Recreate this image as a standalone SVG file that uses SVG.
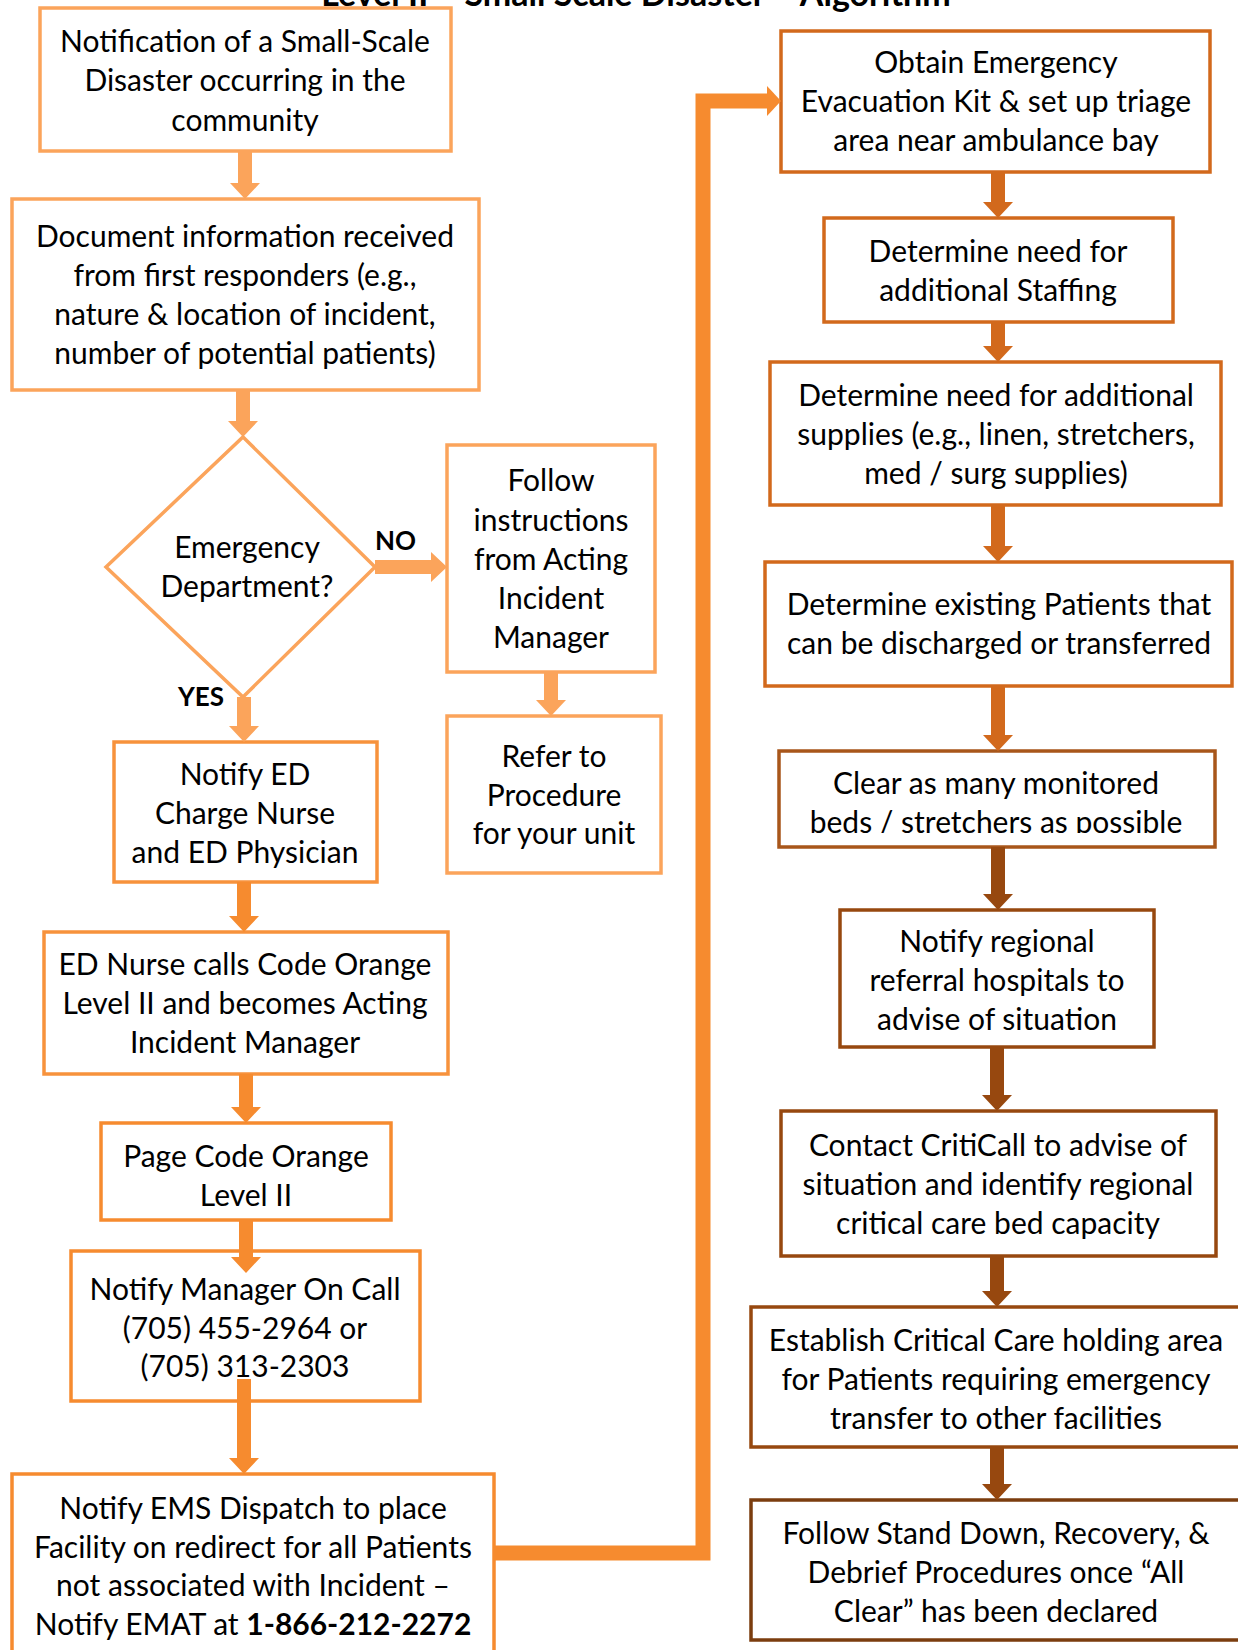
<svg xmlns="http://www.w3.org/2000/svg" width="1238" height="1650" viewBox="0 0 1238 1650">
<style>
  .t{font-family:Lato,"Liberation Sans",sans-serif;font-size:30px;fill:#000;text-anchor:middle}
  .lbl{font-family:Lato,"Liberation Sans",sans-serif;font-size:26px;font-weight:bold;fill:#000}
  .title{font-family:Lato,"Liberation Sans",sans-serif;font-size:34px;font-weight:bold;fill:#000;text-anchor:middle}
  .box{fill:#fff;stroke-width:3.5}
  .c1{stroke:#FBA45B}
  .c2{stroke:#F7923C}
  .c3{stroke:#F68B2F}
  .c4{stroke:#D2691C}
  .c5{stroke:#A8561A}
  .c6{stroke:#97480F}
  .c7{stroke:#7B3D0E}
  .a1{fill:#FBA45B}
  .a3{fill:#F68B2F}
  .a4{fill:#D2691C}
  .a6{fill:#97480F}
</style>
<defs>
  <clipPath id="clipClear"><rect x="779" y="751" width="436" height="82"/></clipPath>
</defs>
<rect width="1238" height="1650" fill="#fff"/>
<text class="title" x="636" y="6">Level II – Small Scale Disaster – Algorithm</text>

<g id="n1">
  <rect class="box c1" x="40" y="8" width="411" height="143"/>
  <text class="t" x="245" y="52">Notification of a Small-Scale</text>
  <text class="t" x="245" y="91">Disaster occurring in the</text>
  <text class="t" x="245" y="131">community</text>
</g>
<g id="n2">
  <rect class="box c1" x="12" y="199" width="467" height="191"/>
  <text class="t" x="245" y="247">Document information received</text>
  <text class="t" x="245" y="286">from first responders (e.g.,</text>
  <text class="t" x="245" y="325">nature &amp; location of incident,</text>
  <text class="t" x="245" y="364">number of potential patients)</text>
</g>
<g id="n3">
  <polygon class="box c1" points="243,437 375,567 243,697 106,567"/>
  <text class="t" x="247" y="558">Emergency</text>
  <text class="t" x="247" y="597">Department?</text>
</g>
<text class="lbl" x="375" y="550">NO</text>
<text class="lbl" x="178" y="706">YES</text>
<g id="n4">
  <rect class="box c1" x="447" y="445" width="208" height="227"/>
  <text class="t" x="551" y="491">Follow</text>
  <text class="t" x="551" y="531">instructions</text>
  <text class="t" x="551" y="570">from Acting</text>
  <text class="t" x="551" y="609">Incident</text>
  <text class="t" x="551" y="648">Manager</text>
</g>
<g id="n5">
  <rect class="box c1" x="447" y="716" width="214" height="157"/>
  <text class="t" x="554" y="767">Refer to</text>
  <text class="t" x="554" y="806">Procedure</text>
  <text class="t" x="554" y="844">for your unit</text>
</g>
<g id="n6">
  <rect class="box c2" x="114" y="742" width="263" height="140"/>
  <text class="t" x="245" y="785">Notify ED</text>
  <text class="t" x="245" y="824">Charge Nurse</text>
  <text class="t" x="245" y="863">and ED Physician</text>
</g>
<g id="n7">
  <rect class="box c2" x="44" y="932" width="404" height="142"/>
  <text class="t" x="245" y="975">ED Nurse calls Code Orange</text>
  <text class="t" x="245" y="1014">Level II and becomes Acting</text>
  <text class="t" x="245" y="1053">Incident Manager</text>
</g>
<g id="n8">
  <rect class="box c3" x="101" y="1123" width="290" height="97"/>
  <text class="t" x="246" y="1167">Page Code Orange</text>
  <text class="t" x="246" y="1206">Level II</text>
</g>
<g id="n9">
  <rect class="box c3" x="71" y="1251" width="349" height="150"/>
  <text class="t" x="245" y="1300">Notify Manager On Call</text>
  <text class="t" x="245" y="1339">(705) 455-2964 or</text>
  <text class="t" x="245" y="1377">(705) 313-2303</text>
</g>
<g id="n10">
  <rect class="box c3" x="12" y="1474" width="482" height="190"/>
  <text class="t" x="253" y="1519">Notify EMS Dispatch to place</text>
  <text class="t" x="253" y="1558">Facility on redirect for all Patients</text>
  <text class="t" x="253" y="1596">not associated with Incident –</text>
  <text class="t" x="253" y="1635">Notify EMAT at <tspan font-weight="bold">1-866-212-2272</tspan></text>
</g>

<g id="n11">
  <rect class="box c4" x="781" y="31" width="429" height="141"/>
  <text class="t" x="996" y="73">Obtain Emergency</text>
  <text class="t" x="996" y="112">Evacuation Kit &amp; set up triage</text>
  <text class="t" x="996" y="151">area near ambulance bay</text>
</g>
<g id="n12">
  <rect class="box c4" x="824" y="218" width="349" height="104"/>
  <text class="t" x="998" y="262">Determine need for</text>
  <text class="t" x="998" y="301">additional Staffing</text>
</g>
<g id="n13">
  <rect class="box c4" x="770" y="362" width="451" height="143"/>
  <text class="t" x="996" y="406">Determine need for additional</text>
  <text class="t" x="996" y="445">supplies (e.g., linen, stretchers,</text>
  <text class="t" x="996" y="484">med / surg supplies)</text>
</g>
<g id="n14">
  <rect class="box c4" x="765" y="562" width="467" height="124"/>
  <text class="t" x="999" y="615">Determine existing Patients that</text>
  <text class="t" x="999" y="654">can be discharged or transferred</text>
</g>
<g id="n15">
  <rect class="box c5" x="779" y="751" width="436" height="96"/>
  <g clip-path="url(#clipClear)">
    <text class="t" x="996" y="794">Clear as many monitored</text>
    <text class="t" x="996" y="833">beds / stretchers as possible</text>
  </g>
</g>
<g id="n16">
  <rect class="box c6" x="840" y="910" width="314" height="137"/>
  <text class="t" x="997" y="952">Notify regional</text>
  <text class="t" x="997" y="991">referral hospitals to</text>
  <text class="t" x="997" y="1030">advise of situation</text>
</g>
<g id="n17">
  <rect class="box c6" x="781" y="1111" width="435" height="145"/>
  <text class="t" x="998" y="1156">Contact CritiCall to advise of</text>
  <text class="t" x="998" y="1195">situation and identify regional</text>
  <text class="t" x="998" y="1234">critical care bed capacity</text>
</g>
<g id="n18">
  <rect class="box c6" x="751" y="1307" width="500" height="140"/>
  <text class="t" x="996" y="1351">Establish Critical Care holding area</text>
  <text class="t" x="996" y="1390">for Patients requiring emergency</text>
  <text class="t" x="996" y="1429">transfer to other facilities</text>
</g>
<g id="n19">
  <rect class="box c7" x="751" y="1500" width="500" height="140"/>
  <text class="t" x="996" y="1544">Follow Stand Down, Recovery, &amp;</text>
  <text class="t" x="996" y="1583">Debrief Procedures once “All</text>
  <text class="t" x="996" y="1622">Clear” has been declared</text>
</g>

<g id="connectors">
  <polygon class="a1" points="238,151 252,151 252,183 260,183 245,199 230,183 238,183"/>
  <polygon class="a1" points="236,390 250,390 250,421 258,421 243,437 228,421 236,421"/>
  <polygon class="a1" points="375,560 431,560 431,552 447,567 431,582 431,574 375,574"/>
  <polygon class="a1" points="544,672 558,672 558,700 566,700 551,716 536,700 544,700"/>
  <polygon class="a1" points="237,697 251,697 251,726 259,726 244,742 229,726 237,726"/>
  <polygon class="a3" points="237,882 251,882 251,916 259,916 244,932 229,916 237,916"/>
  <polygon class="a3" points="239,1074 253,1074 253,1107 261,1107 246,1123 231,1107 239,1107"/>
  <polygon class="a3" points="239,1220 253,1220 253,1257 261,1257 246,1273 231,1257 239,1257"/>
  <polygon class="a3" points="237,1379 251,1379 251,1458 259,1458 244,1474 229,1458 237,1458"/>
  <path d="M494,1553 H703 V101 H768" fill="none" stroke="#F68B2F" stroke-width="15" stroke-linejoin="miter"/>
  <polygon class="a3" points="767,86 781,101 767,116"/>
  <polygon class="a4" points="991,172 1005,172 1005,202 1013,202 998,218 983,202 991,202"/>
  <polygon class="a4" points="991,322 1005,322 1005,346 1013,346 998,362 983,346 991,346"/>
  <polygon class="a4" points="991,505 1005,505 1005,546 1013,546 998,562 983,546 991,546"/>
  <polygon class="a4" points="991,686 1005,686 1005,735 1013,735 998,751 983,735 991,735"/>
  <polygon class="a6" points="991,847 1005,847 1005,894 1013,894 998,910 983,894 991,894"/>
  <polygon class="a6" points="990,1047 1004,1047 1004,1095 1012,1095 997,1111 982,1095 990,1095"/>
  <polygon class="a6" points="990,1256 1004,1256 1004,1291 1012,1291 997,1307 982,1291 990,1291"/>
  <polygon class="a6" points="990,1447 1004,1447 1004,1484 1012,1484 997,1500 982,1484 990,1484"/>
</g>
</svg>
